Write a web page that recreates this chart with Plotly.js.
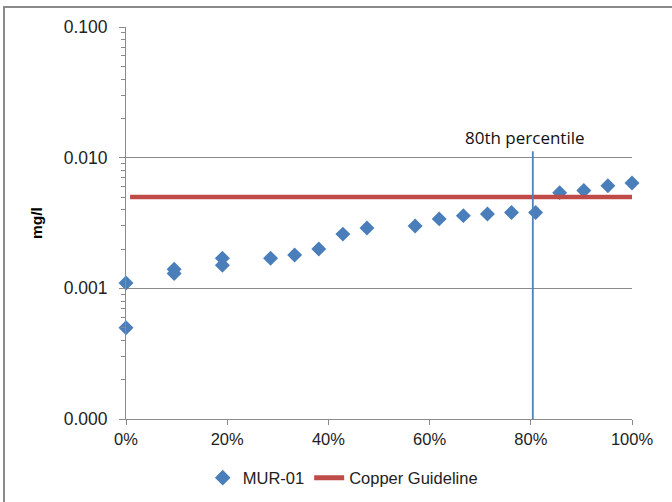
<!DOCTYPE html>
<html>
<head>
<meta charset="utf-8">
<script src="https://cdn.plot.ly/plotly-3.0.1.min.js"></script>
<style>
html,body{margin:0;padding:0;background:#fff;overflow:hidden;}
#frame{position:absolute;left:3px;top:6px;width:720px;height:560px;border-left:2px solid #8a8a8a;border-top:2px solid #8a8a8a;}
#chart{position:absolute;left:0;top:0;width:672px;height:502px;}
</style>
</head>
<body>
<div id="frame"></div>
<div id="chart"></div>
<script>
// Percentile rank (x) and concentration mg/l (y) for MUR-01
const percentiles = [0, 0, 0.0952, 0.0952, 0.1905, 0.1905, 0.2857, 0.3333, 0.381, 0.4286, 0.4762,
                     0.5714, 0.619, 0.6667, 0.7143, 0.7619, 0.8095, 0.8571, 0.9048, 0.9524, 1.0];
const concentrations = [0.0011, 0.0005, 0.0014, 0.0013, 0.0017, 0.0015, 0.0017, 0.0018, 0.002, 0.0026, 0.0029,
                        0.003, 0.0034, 0.0036, 0.0037, 0.0038, 0.0038, 0.0054, 0.0056, 0.0061, 0.0064];
// Copper guideline
const guideX = [0.008, 1.015];
const guideY = [0.005, 0.005];
// 80th percentile marker line
const pctLineX = [0.804, 0.804];
const pctLineY = [0.0001, 0.0112];
const pctLabel = "80th percentile";
// Axis ticks
const yTickVals = [0.0001, 0.001, 0.01, 0.1];
const yTickText = ["0.000", "0.001", "0.010", "0.100"];
const yMinorVals = [0.0002, 0.0003, 0.0004, 0.0005, 0.0006, 0.0007, 0.0008, 0.0009,
                    0.002, 0.003, 0.004, 0.005, 0.006, 0.007, 0.008, 0.009,
                    0.02, 0.03, 0.04, 0.05, 0.06, 0.07, 0.08, 0.09];
const xTickVals = [0, 0.2, 0.4, 0.6, 0.8, 1.0];
const xTickText = ["0%", "20%", "40%", "60%", "80%", "100%"];

const traces = [
  {
    x: percentiles, y: concentrations, type: 'scatter', mode: 'markers', name: 'MUR-01',
    marker: {symbol: 'diamond', size: 11.5, color: '#4A7EBB'}, cliponaxis: false
  },
  {
    x: guideX, y: guideY, type: 'scatter', mode: 'lines', name: 'Copper Guideline',
    line: {color: '#BE4B48', width: 4.5}, cliponaxis: false
  },
  {
    x: pctLineX, y: pctLineY, type: 'scatter', mode: 'lines', showlegend: false,
    line: {color: '#4F81BD', width: 1.8}, cliponaxis: false
  }
];

const layout = {
  width: 672, height: 502,
  margin: {l: 126, r: 40, t: 27, b: 83, autoexpand: false},
  paper_bgcolor: 'rgba(0,0,0,0)', plot_bgcolor: 'rgba(0,0,0,0)',
  font: {family: 'Liberation Sans, Arial, sans-serif', size: 15, color: '#222'},
  showlegend: true,
  legend: {orientation: 'h', xref: 'container', yref: 'container', x: 0.51, xanchor: 'center',
           y: 0.048, yanchor: 'middle', itemsizing: 'constant',
           font: {size: 16.5, color: '#222'}, itemwidth: 30, traceorder: 'normal'},
  xaxis: {
    range: [0, 1], tickvals: xTickVals, ticktext: xTickText, automargin: false,
    showgrid: false, zeroline: false, showline: true, linecolor: '#8a8a8a', linewidth: 1,
    ticks: 'outside', ticklen: 5, tickcolor: '#8a8a8a', tickfont: {size: 16.5}
  },
  yaxis: {
    type: 'log', range: [-4, -1], tickvals: yTickVals, ticktext: yTickText, automargin: false,
    showgrid: true, gridcolor: '#8a8a8a', gridwidth: 1, zeroline: false,
    showline: true, linecolor: '#8a8a8a', linewidth: 1,
    ticks: 'outside', ticklen: 6, tickcolor: '#8a8a8a', tickfont: {size: 17.5},
    ticklabelstandoff: 8,
    minor: {tickmode: 'array', tickvals: yMinorVals, ticks: 'outside', ticklen: 4,
            tickcolor: '#8a8a8a', showgrid: false},
    title: {text: '<b>mg/l</b>', font: {size: 15.5, color: '#000'}, standoff: 17}
  },
  annotations: [{
    x: 0.804, y: Math.log10(0.0112), xref: 'x', yref: 'y', text: pctLabel, showarrow: false,
    xanchor: 'center', yanchor: 'bottom', yshift: 0, xshift: -8,
    font: {family: 'Open Sans, sans-serif', size: 17, color: '#111'}
  }]
};

Plotly.newPlot('chart', traces, layout, {displayModeBar: false, staticPlot: true});
</script>
</body>
</html>
